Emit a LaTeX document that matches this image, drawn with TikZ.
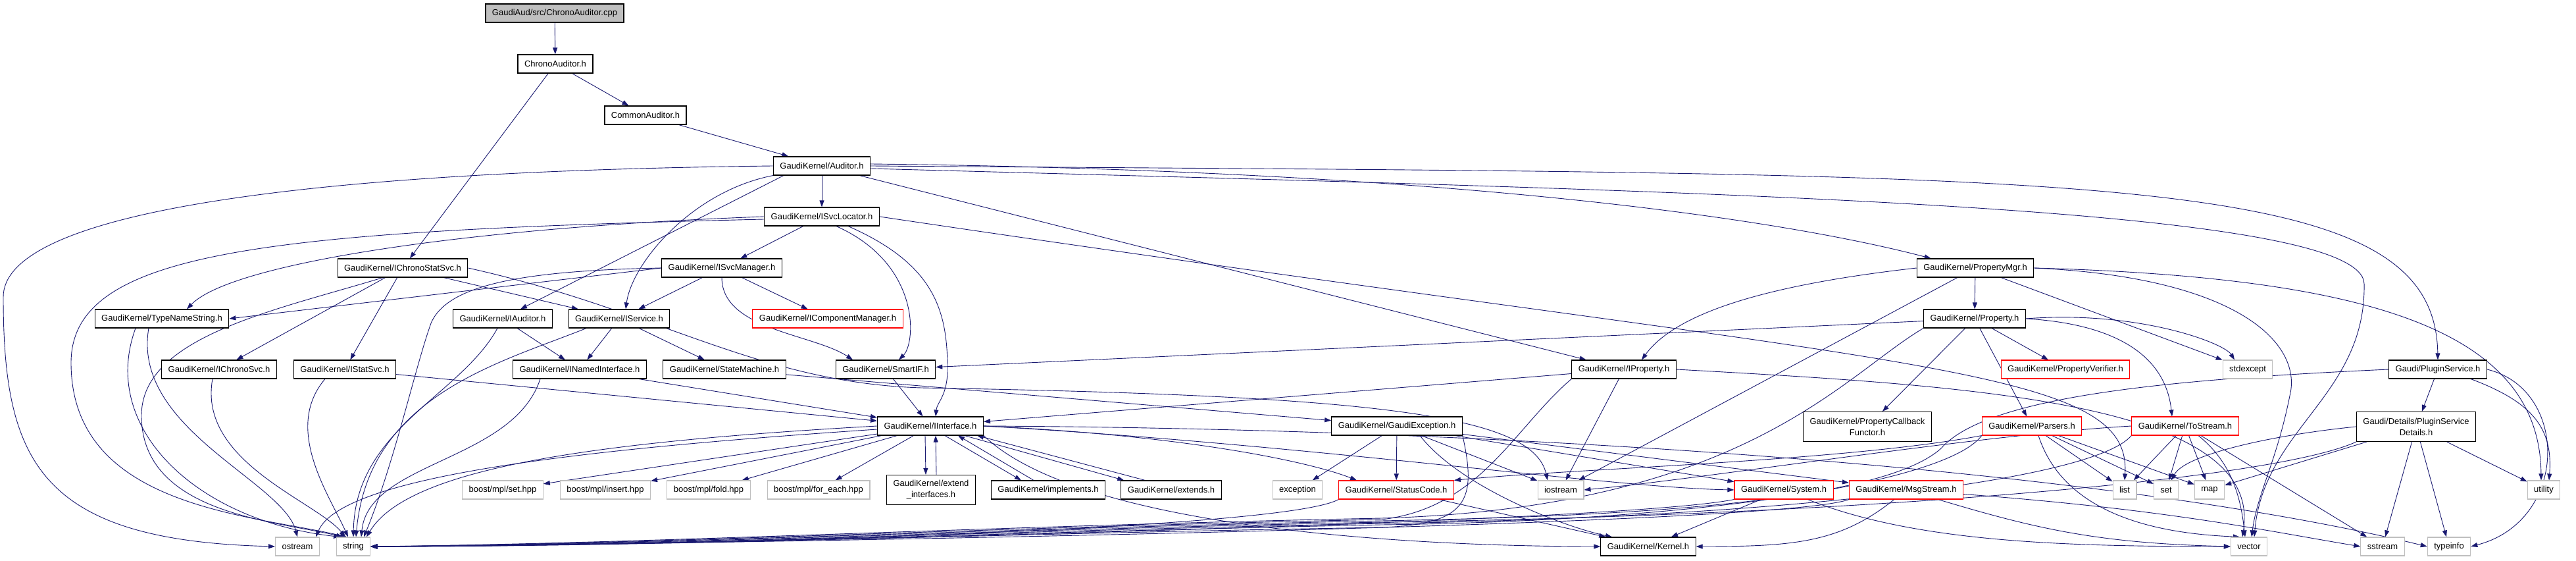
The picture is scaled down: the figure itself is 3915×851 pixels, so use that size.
\documentclass[tikz,border=0pt]{standalone}
\usepackage{fontspec}
\setmainfont{Liberation Sans}
\usetikzlibrary{arrows.meta, backgrounds}

\definecolor{depblue}{HTML}{191970}
\definecolor{incred}{HTML}{FF0000}
\definecolor{sysgrey}{HTML}{BFBFBF}

\begin{document}
\begin{tikzpicture}[x=1pt, y=1pt,
    hdr/.style={draw=black, line width=1.1pt, fill=white, inner xsep=10pt, inner ysep=0pt,
      minimum height=28pt, align=center, font=\fontsize{13}{17}\selectfont},
    incomplete/.style={hdr, draw=incred},
    syshdr/.style={hdr, draw=sysgrey},
    srcfile/.style={hdr, fill=sysgrey},
    twoline/.style={minimum height=45pt},
    dep/.style={draw=depblue, line width=0.9pt, -{Triangle[length=10pt, width=7pt]}}]
  \useasboundingbox (0,0) rectangle (3915,851);

  % Top of the include chain
  \node[srcfile] (cpp) at (843,831) {GaudiAud/src/ChronoAuditor.cpp};
  \node[hdr] (chronoh) at (844,754) {ChronoAuditor.h};
  \node[hdr] (common) at (981,676) {CommonAuditor.h};
  \node[hdr] (auditor) at (1249,599) {GaudiKernel/Auditor.h};
  \node[hdr] (locator) at (1249,522) {GaudiKernel/ISvcLocator.h};

  % Service interfaces
  \node[hdr] (chronostat) at (612,444) {GaudiKernel/IChronoStatSvc.h};
  \node[hdr] (svcmgr) at (1097,444) {GaudiKernel/ISvcManager.h};
  \node[hdr] (propmgr) at (3002,444) {GaudiKernel/PropertyMgr.h};

  \node[hdr] (typename) at (246,367) {GaudiKernel/TypeNameString.h};
  \node[hdr] (iauditor) at (764,367) {GaudiKernel/IAuditor.h};
  \node[hdr] (iservice) at (941,367) {GaudiKernel/IService.h};
  \node[incomplete] (compmgr) at (1258,367) {GaudiKernel/IComponentManager.h};
  \node[hdr] (property) at (3001,367) {GaudiKernel/Property.h};

  \node[hdr] (ichrono) at (333,290) {GaudiKernel/IChronoSvc.h};
  \node[hdr] (istat) at (524,290) {GaudiKernel/IStatSvc.h};
  \node[hdr] (inamed) at (881,290) {GaudiKernel/INamedInterface.h};
  \node[hdr] (statemach) at (1101,290) {GaudiKernel/StateMachine.h};
  \node[hdr] (smartif) at (1346,290) {GaudiKernel/SmartIF.h};
  \node[hdr] (iproperty) at (2468,290) {GaudiKernel/IProperty.h};
  \node[incomplete] (propverif) at (3139,290) {GaudiKernel/PropertyVerifier.h};
  \node[syshdr] (stdexcept) at (3416,290) {stdexcept};
  \node[hdr] (plugin) at (3705,290) {Gaudi/PluginService.h};

  \node[hdr] (iinterface) at (1414,204) {GaudiKernel/IInterface.h};
  \node[hdr] (gexcept) at (2123,204) {GaudiKernel/GaudiException.h};
  \node[hdr, twoline] (propcb) at (2838,203) {GaudiKernel/PropertyCallback\\Functor.h};
  \node[incomplete] (parsers) at (3088,204) {GaudiKernel/Parsers.h};
  \node[incomplete] (tostream) at (3321,204) {GaudiKernel/ToStream.h};
  \node[hdr, twoline] (plugindet) at (3672,203) {Gaudi/Details/PluginService\\Details.h};

  % Leaves
  \node[syshdr] (mplset) at (764,107) {boost/mpl/set.hpp};
  \node[syshdr] (mplinsert) at (920,107) {boost/mpl/insert.hpp};
  \node[syshdr] (mplfold) at (1077,107) {boost/mpl/fold.hpp};
  \node[syshdr] (mplforeach) at (1244,107) {boost/mpl/for\_each.hpp};
  \node[hdr, twoline] (extendif) at (1415,107) {GaudiKernel/extend\\\_interfaces.h};
  \node[hdr] (implements) at (1593,107) {GaudiKernel/implements.h};
  \node[hdr] (extends) at (1780,107) {GaudiKernel/extends.h};
  \node[syshdr] (exception) at (1972,107) {exception};
  \node[incomplete] (statuscode) at (2122,107) {GaudiKernel/StatusCode.h};
  \node[syshdr] (iostream) at (2372,107) {iostream};
  \node[incomplete] (system) at (2711,107) {GaudiKernel/System.h};
  \node[incomplete] (msgstream) at (2897,107) {GaudiKernel/MsgStream.h};
  \node[syshdr] (list) at (3229,107) {list};
  \node[syshdr] (set) at (3292,107) {set};
  \node[syshdr] (map) at (3358,107) {map};
  \node[syshdr] (utility) at (3866,107) {utility};

  \node[syshdr] (ostream) at (452,21) {ostream};
  \node[syshdr] (string) at (537,21) {string};
  \node[hdr] (kernel) at (2505,21) {GaudiKernel/Kernel.h};
  \node[syshdr] (vector) at (3418,21) {vector};
  \node[syshdr] (sstream) at (3621,21) {sstream};
  \node[syshdr] (typeinfo) at (3722,21) {typeinfo};

  \begin{scope}[on background layer]
    % Straight includes
    \foreach \t/\h in {cpp/chronoh, chronoh/common, chronoh/chronostat, common/auditor,
        auditor/locator, auditor/iproperty, locator/svcmgr,
        chronostat/ichrono, chronostat/istat, chronostat/iservice,
        svcmgr/iservice, svcmgr/compmgr, iauditor/inamed, iservice/inamed, iservice/statemach,
        istat/iinterface, inamed/iinterface, statemach/gexcept, smartif/iinterface,
        iproperty/iinterface, iproperty/iostream, property/smartif,
        iinterface/mplset, iinterface/mplinsert, iinterface/mplfold, iinterface/mplforeach,
        gexcept/exception, gexcept/statuscode, gexcept/iostream, gexcept/system, gexcept/msgstream,
        statuscode/kernel, system/kernel,
        propmgr/property, propmgr/stdexcept, propmgr/iostream,
        property/propverif, property/parsers, property/propcb,
        parsers/list, parsers/set, parsers/map,
        tostream/list, tostream/set, tostream/map, tostream/sstream,
        plugin/plugindet, plugindet/map, plugindet/sstream, plugindet/typeinfo, plugindet/utility}
      \draw[dep] (\t) -- (\h);
    \draw[dep] (svcmgr.west) -- (typename.east);
    \draw[dep] ([xshift=-58pt]auditor.south) -- ([xshift=27pt]iauditor.north);
    \draw[dep] (auditor.south west) .. controls (1050,560) and (960,450) .. ([xshift=10pt]iservice.north);

    % Two-way includes of IInterface.h
    \draw[dep] ([xshift=-8pt]iinterface.south) -- ([xshift=-8pt]extendif.north);
    \draw[dep] ([xshift=8pt]extendif.north) -- ([xshift=8pt]iinterface.south);
    \draw[dep] ([xshift=22pt]iinterface.south) -- ([xshift=-41pt]implements.north);
    \draw[dep] ([xshift=-22pt]implements.north) -- ([xshift=42pt]iinterface.south);
    \draw[dep] ([xshift=52pt]iinterface.south) -- ([xshift=5pt]extends.north west);
    \draw[dep] ([xshift=37pt]extends.north west) -- ([xshift=71pt]iinterface.south);

    % Long sweeps out of Auditor.h
    \draw[dep] (auditor.west) .. controls (400,590) and (5,520) .. (5,400)
      .. controls (5,150) and (60,30) .. (ostream.west);
    \draw[dep] ([yshift=3pt]auditor.east) .. controls (2200,592) and (2700,520) .. ([xshift=22pt]propmgr.north west);
    \draw[dep] (auditor.east) .. controls (3200,585) and (3700,600) .. (plugin.north);
    \draw[dep] ([yshift=-4pt]auditor.east) .. controls (2600,560) and (3590,540) .. (3593,420)
      .. controls (3596,250) and (3440,200) .. ([xshift=8pt]vector.north);

    % ISvcLocator.h
    \draw[dep] (locator.west) .. controls (700,505) and (350,450) .. ([xshift=38pt]typename.north);
    \draw[dep] ([yshift=-4pt]locator.west) .. controls (400,500) and (108,470) .. (108,300)
      .. controls (108,80) and (380,70) .. ([xshift=-10pt]string.north);
    \draw[dep] ([xshift=22pt]locator.south) .. controls (1400,450) and (1392,330) .. ([xshift=20pt]smartif.north);
    \draw[dep] ([xshift=40pt]locator.south) .. controls (1420,450) and (1440,380) .. (1440,290)
      .. controls (1440,250) and (1424,240) .. ([xshift=8pt]iinterface.north);
    \draw[dep] (locator.east) .. controls (2900,290) and (3240,300) .. (list.north);

    % Into string and ostream from the left part
    \draw[dep] ([xshift=-30pt]chronostat.south) .. controls (420,380) and (215,340) .. (215,220)
      .. controls (215,70) and (420,60) .. ([xshift=-16pt]string.north);
    \draw[dep] ([xshift=-40pt]typename.south) .. controls (150,200) and (300,60) .. ([xshift=-20pt]string.north);
    \draw[dep] ([xshift=-20pt]typename.south) .. controls (200,200) and (430,120) .. (ostream.north);
    \draw[dep] ([xshift=-10pt]ichrono.south) .. controls (300,150) and (480,90) .. ([xshift=-12pt]string.north);
    \draw[dep] ([xshift=-30pt]istat.south) .. controls (430,200) and (500,100) .. ([xshift=-8pt]string.north);
    \draw[dep] ([xshift=-8pt]iauditor.south) .. controls (700,250) and (540,200) .. (string.north);
    \draw[dep] ([xshift=-50pt]iservice.south) .. controls (760,300) and (560,250) .. ([xshift=4pt]string.north);
    \draw[dep] ([xshift=-60pt]inamed.south) .. controls (780,150) and (560,150) .. ([xshift=12pt]string.north);
    \draw[dep] (svcmgr.west) .. controls (800,440) and (680,420) .. (655,360)
      .. controls (630,290) and (600,150) .. ([xshift=16pt]string.north);
    \draw[dep] (iinterface.west) .. controls (900,180) and (620,140) .. ([xshift=20pt]string.north);
    \draw[dep] ([yshift=-5pt]iinterface.west) .. controls (900,170) and (520,130) .. ([xshift=28pt]ostream.north);

    % Into string from the right: the thick bundle
    \draw[dep] (gexcept.south east) .. controls (2245,90) and (2230,55) .. (2100,50)
      .. controls (1500,40) and (1000,21) .. (string.east);
    \draw[dep] (statuscode.south west) .. controls (1950,45) and (1000,22) .. (string.east);
    \draw[dep] (system.south west) .. controls (2450,55) and (1000,23) .. (string.east);
    \draw[dep] (msgstream.south west) .. controls (2700,50) and (1000,24) .. (string.east);
    \draw[dep] (parsers.south west) .. controls (2960,120) and (2600,60) .. (2100,54)
      .. controls (1500,42) and (1000,21) .. (string.east);
    \draw[dep] (tostream.south west) .. controls (3180,120) and (2700,65) .. (2100,56)
      .. controls (1500,44) and (1000,22) .. (string.east);
    \draw[dep] (plugindet.south west) .. controls (3450,120) and (2800,68) .. (2100,58)
      .. controls (1500,46) and (1000,23) .. (string.east);
    \draw[dep] (plugin.west) .. controls (3300,275) and (3020,250) .. (2950,170)
      .. controls (2850,80) and (2400,66) .. (2100,60)
      .. controls (1500,48) and (1000,24) .. (string.east);
    \draw[dep] (iproperty.south west) .. controls (2300,200) and (2250,80) .. (2100,62)
      .. controls (1500,50) and (1000,25) .. (string.east);
    \draw[dep] (property.south west) .. controls (2800,280) and (2650,80) .. (2100,64)
      .. controls (1500,52) and (1000,26) .. (string.east);

    % Other curved includes
    \draw[dep] (svcmgr.south) .. controls (1097,350) and (1236,344) .. ([xshift=-50pt]smartif.north);
    \draw[dep] (chronostat.east) .. controls (1000,380) and (1150,270) .. (1400,262)
      .. controls (2100,250) and (2330,220) .. ([xshift=-20pt]iostream.north);
    \draw[dep] (propmgr.west) .. controls (2700,420) and (2550,380) .. ([xshift=27pt]iproperty.north);
    \draw[dep] (property.east) .. controls (3200,360) and (3290,320) .. ([xshift=-20pt]tostream.north);
    \draw[dep] (property.east) .. controls (3250,380) and (3380,330) .. ([xshift=-20pt]stdexcept.north);
    \draw[dep] (iinterface.south east) .. controls (1650,40) and (2200,21) .. (kernel.west);
    \draw[dep] (iinterface.east) .. controls (1800,190) and (1990,150) .. ([xshift=-60pt]statuscode.north);
    \draw[dep] (iinterface.east) .. controls (2000,175) and (2450,110) .. (system.west);
    \draw[dep] (iinterface.east) .. controls (2300,200) and (3200,140) .. (typeinfo.west);
    \draw[dep] ([xshift=35pt]gexcept.south) .. controls (2220,110) and (2380,50) .. ([xshift=-55pt]kernel.north);
    \draw[dep] (parsers.south west) .. controls (2800,150) and (2400,140) .. (statuscode.north east);
    \draw[dep] ([xshift=10pt]parsers.south) .. controls (3140,60) and (3300,40) .. ([xshift=-14pt]vector.north);
    \draw[dep] ([xshift=20pt]tostream.south) .. controls (3390,150) and (3405,100) .. ([xshift=-6pt]vector.north);
    \draw[dep] (tostream.west) .. controls (3000,190) and (2600,125) .. (iostream.east);
    \draw[dep] (msgstream) .. controls +(-100,-80) and +(150,0) .. (kernel.east);
    \draw[dep] (msgstream) .. controls +(200,-60) and +(-200,5) .. (vector.west);
    \draw[dep] (msgstream) .. controls +(400,-30) and +(-150,25) .. (sstream.west);
    \draw[dep] (system) .. controls +(200,-80) and +(-250,0) .. (vector.west);
    \draw[dep] (iproperty.east) .. controls (3000,265) and (3440,240) .. ([xshift=-10pt]vector.north);
    \draw[dep] (propmgr.east) .. controls (3400,430) and (3500,330) .. (3480,250)
      .. controls (3460,150) and (3430,100) .. ([xshift=4pt]vector.north);
    \draw[dep] (propmgr.east) .. controls (3600,430) and (3860,350) .. ([xshift=-4pt]utility.north);
    \draw[dep] (plugindet.west) .. controls (3450,190) and (3320,160) .. ([xshift=8pt]set.north);
    \draw[dep] ([xshift=50pt]plugin.south) .. controls (3850,240) and (3880,200) .. ([xshift=8pt]utility.north);
    \draw[dep] (plugin.east) .. controls (3905,260) and (3905,60) .. (typeinfo.east);
  \end{scope}
\end{tikzpicture}
\end{document}
